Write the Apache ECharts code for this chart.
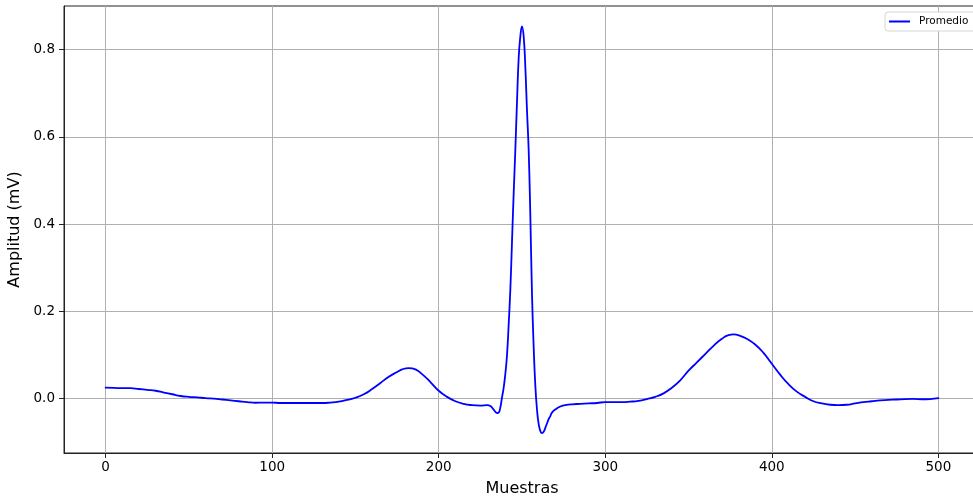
<!DOCTYPE html>
<html>
<head>
<meta charset="utf-8">
<script src="https://cdn.jsdelivr.net/npm/echarts@6/dist/echarts.min.js"></script>
<style>
  html, body { margin: 0; padding: 0; background: #ffffff; }
  #chart { width: 973px; height: 497px; }
</style>
</head>
<body>
<div id="chart"></div>
<script>
// Averaged heartbeat (Promedio): sample index and amplitude in mV
const samples = [
  0, 5, 10, 15, 20, 25, 30, 35, 40, 45, 50, 55, 60, 65, 70, 75, 80, 85, 90, 95,
  100, 105, 110, 115, 120, 125, 130, 135, 140, 145, 150, 155, 160, 165, 170, 175,
  178, 182, 186, 190, 195, 200, 205, 210, 215, 220, 225, 229, 231, 233, 235, 236,
  237, 238, 239, 240, 241, 242, 243, 244, 245, 246, 247, 248, 249, 250, 251, 252,
  253, 254, 255, 256, 257, 258, 259, 260, 261, 262, 263, 264, 265, 266, 267, 268,
  270, 273, 276, 280, 285, 290, 295, 300, 305, 310, 315, 320, 325, 330, 335, 340,
  345, 350, 355, 360, 365, 370, 374, 377, 381, 385, 390, 395, 400, 405, 410, 415,
  420, 425, 430, 435, 440, 445, 450, 455, 460, 465, 470, 475, 480, 485, 490, 495, 500
];
const amplitude = [
  0.025, 0.0245, 0.024, 0.024, 0.022, 0.020, 0.018, 0.014, 0.010, 0.006, 0.004, 0.003, 0.001, 0.000, -0.002, -0.004, -0.006, -0.008, -0.0095, -0.009,
  -0.009, -0.010, -0.010, -0.010, -0.010, -0.010, -0.010, -0.009, -0.007, -0.003, 0.002, 0.010, 0.022, 0.036, 0.050, 0.061,
  0.067, 0.070, 0.067, 0.056, 0.038, 0.018, 0.004, -0.006, -0.012, -0.015, -0.016, -0.015, -0.017, -0.025, -0.033, -0.032,
  -0.020, 0.003, 0.025, 0.057, 0.100, 0.170, 0.250, 0.360, 0.470, 0.570, 0.680, 0.780, 0.830, 0.853, 0.830, 0.760,
  0.660, 0.570, 0.420, 0.240, 0.120, 0.030, -0.025, -0.058, -0.074, -0.079, -0.076, -0.067, -0.057, -0.047, -0.040, -0.032,
  -0.025, -0.018, -0.015, -0.013, -0.012, -0.011, -0.010, -0.008, -0.008, -0.008, -0.007, -0.005, -0.001, 0.004, 0.012, 0.025,
  0.042, 0.064, 0.083, 0.102, 0.121, 0.137, 0.1455, 0.147, 0.144, 0.137, 0.124, 0.105, 0.080, 0.055, 0.033, 0.016,
  0.004, -0.006, -0.011, -0.014, -0.015, -0.014, -0.011, -0.008, -0.006, -0.004, -0.003, -0.002, -0.001, -0.0008, -0.0015, -0.001, 0.001
];
const xTicks = [0, 100, 200, 300, 400, 500];
const yTicks = [0.0, 0.2, 0.4, 0.6, 0.8];

const FONT = 'DejaVu Sans';
const points = samples.map((s, i) => [s, amplitude[i]]);

const chart = echarts.init(document.getElementById('chart'), null, { renderer: 'canvas' });
chart.setOption({
  animation: false,
  backgroundColor: '#ffffff',
  textStyle: { fontFamily: FONT },
  grid: {
    left: 64, top: 6, width: 916, height: 447,
    outerBoundsMode: 'none',
    containLabel: false,
    show: true, borderColor: '#222222', borderWidth: 1, backgroundColor: 'transparent'
  },
  legend: {
    left: 885, top: 12,
    padding: [4, 16, 4, 4],
    itemWidth: 21, itemHeight: 2,
    icon: 'rect',
    borderColor: '#d6d6d6', borderWidth: 1, borderRadius: 3,
    backgroundColor: '#ffffff',
    textStyle: { fontFamily: FONT, fontSize: 10.5, color: '#000000', padding: [0, 0, 0, 4] },
    data: ['Promedio']
  },
  xAxis: {
    type: 'value', min: -25, max: 525,
    name: 'Muestras', nameLocation: 'middle', nameGap: 28,
    nameTextStyle: { fontFamily: FONT, fontSize: 16, color: '#000000' },
    axisLine: { show: true, onZero: false, lineStyle: { color: '#222222', width: 1 } },
    axisTick: { show: true, inside: false, length: 5, customValues: xTicks, lineStyle: { color: '#222222' } },
    axisLabel: { customValues: xTicks, margin: 7, fontFamily: FONT, fontSize: 13.5, color: '#000000',
      formatter: v => String(Math.round(v)) },
    splitLine: { show: true, lineStyle: { color: '#b0b0b0', width: 1 } }
  },
  yAxis: {
    type: 'value', min: -0.1246, max: 0.8996,
    name: 'Amplitud (mV)', nameLocation: 'middle', nameGap: 35, nameRotate: 90,
    nameTextStyle: { fontFamily: FONT, fontSize: 16, color: '#000000' },
    axisLine: { show: true, onZero: false, lineStyle: { color: '#222222', width: 1 } },
    axisTick: { show: true, inside: false, length: 5, customValues: yTicks, lineStyle: { color: '#222222' } },
    axisLabel: { customValues: yTicks, margin: 9, fontFamily: FONT, fontSize: 13.5, color: '#000000',
      formatter: v => v.toFixed(1) },
    splitLine: { show: true, lineStyle: { color: '#b0b0b0', width: 1 } }
  },
  series: [{
    name: 'Promedio',
    type: 'line',
    data: points,
    symbol: 'none',
    smooth: 0.5,
    lineStyle: { color: '#0000ff', width: 1.8, join: 'round', cap: 'round' },
    itemStyle: { color: '#0000ff' }
  }]
});
</script>
</body>
</html>
